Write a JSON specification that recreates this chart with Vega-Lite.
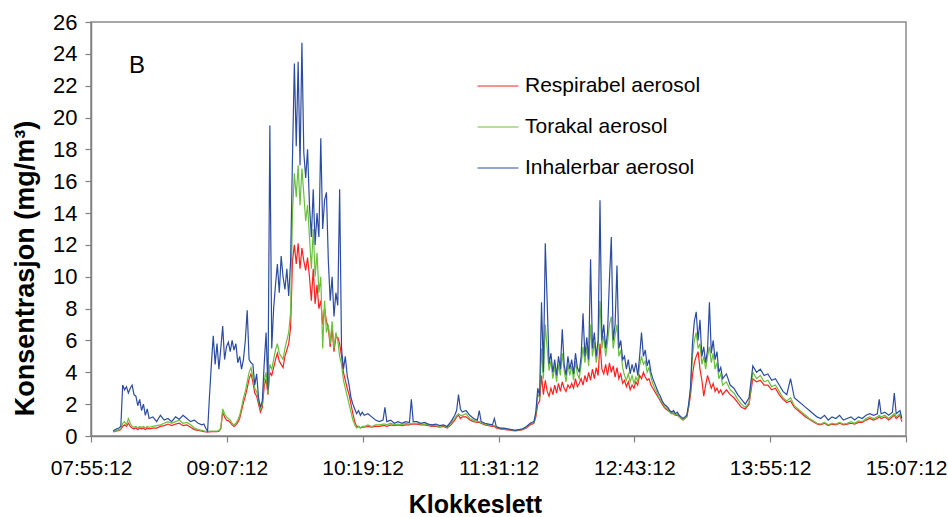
{
  "$schema": "https://vega.github.io/schema/vega-lite/v6.json",
  "width": 815,
  "height": 414,
  "autosize": {"type": "none"},
  "padding": {"left": 91, "top": 22, "right": 42, "bottom": 81},
  "background": "white",
  "config": {
    "font": "Liberation Sans",
    "view": {"stroke": "#8a8a8a", "strokeWidth": 1.5},
    "axis": {
      "labelFont": "Liberation Sans",
      "titleFont": "Liberation Sans",
      "labelColor": "#000000",
      "titleColor": "#000000",
      "domainColor": "#808080",
      "domainWidth": 1.5,
      "tickColor": "#808080",
      "tickWidth": 1.2,
      "labelOverlap": false,
      "grid": false
    },
    "axisY": {"labelOverlap": false, "labelFontSize": 22}
  },
  "layer": [
    {
      "data": {
        "format": {"parse": {"t": "date:'%H:%M'"}},
        "values": [
          {"t":"08:07","r":0.25,"g":0.3,"b":0.3},
          {"t":"08:08","r":0.28,"g":0.3,"b":0.4},
          {"t":"08:10","r":0.35,"g":0.4,"b":0.5},
          {"t":"08:11","r":0.4,"g":0.45,"b":0.6},
          {"t":"08:12","r":0.6,"g":0.8,"b":3.2},
          {"t":"08:13","r":0.7,"g":0.9,"b":2.9},
          {"t":"08:14","r":0.6,"g":0.7,"b":3.1},
          {"t":"08:15","r":0.8,"g":1.1,"b":2.7},
          {"t":"08:16","r":0.6,"g":0.8,"b":3.0},
          {"t":"08:17","r":0.5,"g":0.6,"b":3.2},
          {"t":"08:18","r":0.45,"g":0.55,"b":2.6},
          {"t":"08:19","r":0.5,"g":0.6,"b":2.5},
          {"t":"08:20","r":0.4,"g":0.5,"b":1.9},
          {"t":"08:21","r":0.5,"g":0.6,"b":2.3},
          {"t":"08:22","r":0.45,"g":0.55,"b":1.6},
          {"t":"08:23","r":0.5,"g":0.6,"b":2.0},
          {"t":"08:24","r":0.4,"g":0.5,"b":1.3},
          {"t":"08:25","r":0.5,"g":0.6,"b":1.7},
          {"t":"08:26","r":0.45,"g":0.55,"b":1.1},
          {"t":"08:28","r":0.5,"g":0.6,"b":1.2},
          {"t":"08:30","r":0.5,"g":0.65,"b":0.9},
          {"t":"08:32","r":0.6,"g":0.7,"b":1.3},
          {"t":"08:34","r":0.65,"g":0.8,"b":1.0},
          {"t":"08:36","r":0.75,"g":0.9,"b":1.1},
          {"t":"08:38","r":0.65,"g":0.8,"b":0.9},
          {"t":"08:40","r":0.75,"g":0.9,"b":1.2},
          {"t":"08:42","r":0.8,"g":1.0,"b":1.05},
          {"t":"08:44","r":0.65,"g":0.8,"b":1.3},
          {"t":"08:46","r":0.7,"g":0.85,"b":1.1},
          {"t":"08:48","r":0.55,"g":0.7,"b":0.9},
          {"t":"08:50","r":0.4,"g":0.5,"b":1.0},
          {"t":"08:52","r":0.35,"g":0.4,"b":0.8},
          {"t":"08:54","r":0.3,"g":0.35,"b":0.7},
          {"t":"08:55","r":0.28,"g":0.32,"b":0.75},
          {"t":"08:56","r":0.25,"g":0.3,"b":0.5},
          {"t":"08:57","r":0.25,"g":0.28,"b":0.3},
          {"t":"08:58","r":0.25,"g":0.3,"b":2.5},
          {"t":"08:59","r":0.27,"g":0.3,"b":4.5},
          {"t":"09:00","r":0.27,"g":0.3,"b":6.3},
          {"t":"09:01","r":0.27,"g":0.3,"b":4.5},
          {"t":"09:02","r":0.28,"g":0.3,"b":5.8},
          {"t":"09:03","r":0.3,"g":0.35,"b":4.2},
          {"t":"09:04","r":0.45,"g":0.5,"b":5.5},
          {"t":"09:05","r":1.5,"g":1.7,"b":6.9},
          {"t":"09:06","r":1.2,"g":1.4,"b":4.8},
          {"t":"09:07","r":1.0,"g":1.2,"b":5.6},
          {"t":"09:08","r":0.95,"g":1.1,"b":5.9},
          {"t":"09:09","r":0.85,"g":1.0,"b":5.3},
          {"t":"09:10","r":0.7,"g":0.8,"b":6.0},
          {"t":"09:11","r":0.6,"g":0.7,"b":5.4},
          {"t":"09:12","r":0.7,"g":0.8,"b":5.8},
          {"t":"09:13","r":0.85,"g":1.0,"b":4.6},
          {"t":"09:14","r":1.1,"g":1.3,"b":5.0},
          {"t":"09:15","r":1.6,"g":1.8,"b":4.2},
          {"t":"09:16","r":2.1,"g":2.4,"b":4.8},
          {"t":"09:17","r":2.5,"g":2.8,"b":6.0},
          {"t":"09:18","r":3.0,"g":3.4,"b":7.9},
          {"t":"09:19","r":3.6,"g":4.0,"b":4.8},
          {"t":"09:20","r":3.9,"g":4.3,"b":4.6},
          {"t":"09:21","r":3.4,"g":3.7,"b":4.5},
          {"t":"09:22","r":2.7,"g":3.0,"b":3.2},
          {"t":"09:23","r":2.5,"g":2.8,"b":3.9},
          {"t":"09:24","r":2.0,"g":2.2,"b":2.4},
          {"t":"09:25","r":1.5,"g":1.7,"b":1.8},
          {"t":"09:26","r":1.8,"g":2.0,"b":2.2},
          {"t":"09:27","r":3.1,"g":3.5,"b":4.5},
          {"t":"09:28","r":3.6,"g":4.0,"b":6.5},
          {"t":"09:29","r":2.6,"g":2.7,"b":2.9},
          {"t":"09:30","r":4.0,"g":4.5,"b":19.5},
          {"t":"09:31","r":3.8,"g":4.2,"b":5.5},
          {"t":"09:32","r":4.3,"g":4.8,"b":8.0},
          {"t":"09:33","r":4.8,"g":5.4,"b":9.5},
          {"t":"09:34","r":5.2,"g":5.8,"b":10.8},
          {"t":"09:35","r":4.7,"g":5.2,"b":9.0},
          {"t":"09:36","r":4.5,"g":5.0,"b":11.3},
          {"t":"09:37","r":4.3,"g":4.8,"b":10.0},
          {"t":"09:38","r":5.0,"g":5.5,"b":9.2},
          {"t":"09:39","r":5.4,"g":6.0,"b":10.5},
          {"t":"09:40","r":5.8,"g":6.5,"b":8.8},
          {"t":"09:41","r":6.8,"g":7.8,"b":11.0},
          {"t":"09:42","r":11.0,"g":14.0,"b":17.5},
          {"t":"09:43","r":12.0,"g":16.5,"b":23.4},
          {"t":"09:44","r":10.8,"g":15.0,"b":18.2},
          {"t":"09:45","r":12.1,"g":17.0,"b":23.5},
          {"t":"09:46","r":10.5,"g":14.5,"b":17.0},
          {"t":"09:47","r":11.8,"g":16.8,"b":24.7},
          {"t":"09:48","r":11.0,"g":15.2,"b":17.8},
          {"t":"09:49","r":10.4,"g":13.5,"b":16.2},
          {"t":"09:50","r":11.2,"g":14.5,"b":18.0},
          {"t":"09:51","r":10.0,"g":12.5,"b":14.5},
          {"t":"09:52","r":8.5,"g":10.5,"b":12.5},
          {"t":"09:53","r":10.5,"g":13.0,"b":15.5},
          {"t":"09:54","r":8.3,"g":10.0,"b":12.0},
          {"t":"09:55","r":9.5,"g":11.5,"b":14.0},
          {"t":"09:56","r":8.0,"g":9.0,"b":12.5},
          {"t":"09:57","r":8.5,"g":10.0,"b":18.7},
          {"t":"09:58","r":7.0,"g":5.5,"b":13.0},
          {"t":"09:59","r":8.0,"g":8.5,"b":14.8},
          {"t":"10:00","r":7.2,"g":6.5,"b":15.3},
          {"t":"10:01","r":6.8,"g":7.0,"b":11.0},
          {"t":"10:02","r":5.6,"g":5.8,"b":8.5},
          {"t":"10:03","r":6.8,"g":7.2,"b":10.0},
          {"t":"10:04","r":5.3,"g":5.5,"b":7.5},
          {"t":"10:05","r":6.2,"g":6.5,"b":9.0},
          {"t":"10:06","r":6.2,"g":6.0,"b":8.2},
          {"t":"10:07","r":5.8,"g":5.0,"b":15.5},
          {"t":"10:08","r":5.0,"g":4.5,"b":5.5},
          {"t":"10:09","r":4.0,"g":3.5,"b":4.2},
          {"t":"10:10","r":3.5,"g":3.0,"b":5.0},
          {"t":"10:11","r":3.0,"g":2.5,"b":3.8},
          {"t":"10:12","r":2.6,"g":2.0,"b":3.2},
          {"t":"10:13","r":2.0,"g":1.5,"b":2.4},
          {"t":"10:14","r":1.4,"g":1.0,"b":2.0},
          {"t":"10:15","r":0.9,"g":0.7,"b":1.7},
          {"t":"10:16","r":0.6,"g":0.5,"b":1.4},
          {"t":"10:17","r":0.6,"g":0.6,"b":1.6},
          {"t":"10:18","r":0.5,"g":0.5,"b":1.3},
          {"t":"10:19","r":0.55,"g":0.6,"b":1.5},
          {"t":"10:20","r":0.55,"g":0.6,"b":1.3},
          {"t":"10:22","r":0.6,"g":0.7,"b":1.4},
          {"t":"10:24","r":0.55,"g":0.6,"b":1.2},
          {"t":"10:26","r":0.6,"g":0.7,"b":1.0},
          {"t":"10:28","r":0.6,"g":0.7,"b":0.9},
          {"t":"10:30","r":0.65,"g":0.75,"b":1.0},
          {"t":"10:31","r":0.65,"g":0.75,"b":1.8},
          {"t":"10:32","r":0.6,"g":0.7,"b":0.9},
          {"t":"10:34","r":0.7,"g":0.8,"b":1.0},
          {"t":"10:36","r":0.65,"g":0.7,"b":0.8},
          {"t":"10:38","r":0.7,"g":0.75,"b":0.9},
          {"t":"10:40","r":0.65,"g":0.7,"b":0.8},
          {"t":"10:42","r":0.7,"g":0.8,"b":0.9},
          {"t":"10:44","r":0.7,"g":0.75,"b":0.85},
          {"t":"10:45","r":0.75,"g":0.8,"b":2.3},
          {"t":"10:46","r":0.75,"g":0.8,"b":0.9},
          {"t":"10:48","r":0.75,"g":0.8,"b":0.9},
          {"t":"10:50","r":0.7,"g":0.75,"b":0.8},
          {"t":"10:52","r":0.7,"g":0.75,"b":0.85},
          {"t":"10:54","r":0.65,"g":0.7,"b":0.75},
          {"t":"10:56","r":0.6,"g":0.65,"b":0.7},
          {"t":"10:58","r":0.6,"g":0.65,"b":0.75},
          {"t":"11:00","r":0.55,"g":0.6,"b":0.65},
          {"t":"11:02","r":0.6,"g":0.65,"b":0.7},
          {"t":"11:04","r":0.5,"g":0.55,"b":0.6},
          {"t":"11:06","r":0.7,"g":0.8,"b":0.9},
          {"t":"11:08","r":1.0,"g":1.1,"b":1.3},
          {"t":"11:09","r":1.2,"g":1.3,"b":1.6},
          {"t":"11:10","r":1.3,"g":1.4,"b":2.6},
          {"t":"11:11","r":1.1,"g":1.3,"b":1.7},
          {"t":"11:12","r":1.2,"g":1.3,"b":1.5},
          {"t":"11:14","r":1.2,"g":1.4,"b":1.6},
          {"t":"11:16","r":1.0,"g":1.1,"b":1.3},
          {"t":"11:18","r":0.9,"g":1.0,"b":1.1},
          {"t":"11:20","r":0.85,"g":0.9,"b":1.0},
          {"t":"11:21","r":0.85,"g":0.9,"b":1.6},
          {"t":"11:22","r":0.8,"g":0.85,"b":0.9},
          {"t":"11:24","r":0.7,"g":0.75,"b":0.8},
          {"t":"11:26","r":0.65,"g":0.7,"b":0.75},
          {"t":"11:28","r":0.6,"g":0.65,"b":0.7},
          {"t":"11:29","r":0.6,"g":0.65,"b":1.1},
          {"t":"11:30","r":0.5,"g":0.55,"b":0.6},
          {"t":"11:32","r":0.45,"g":0.5,"b":0.5},
          {"t":"11:34","r":0.42,"g":0.45,"b":0.5},
          {"t":"11:36","r":0.38,"g":0.42,"b":0.45},
          {"t":"11:38","r":0.35,"g":0.38,"b":0.4},
          {"t":"11:40","r":0.32,"g":0.35,"b":0.35},
          {"t":"11:42","r":0.35,"g":0.38,"b":0.4},
          {"t":"11:44","r":0.4,"g":0.42,"b":0.45},
          {"t":"11:46","r":0.5,"g":0.55,"b":0.6},
          {"t":"11:48","r":0.7,"g":0.75,"b":0.8},
          {"t":"11:50","r":0.8,"g":0.85,"b":0.9},
          {"t":"11:51","r":1.2,"g":1.4,"b":1.5},
          {"t":"11:52","r":2.0,"g":2.6,"b":3.0},
          {"t":"11:53","r":2.2,"g":2.4,"b":2.5},
          {"t":"11:54","r":3.8,"g":5.5,"b":8.4},
          {"t":"11:55","r":2.6,"g":3.6,"b":4.0},
          {"t":"11:56","r":3.5,"g":7.0,"b":12.1},
          {"t":"11:57","r":2.8,"g":5.5,"b":8.4},
          {"t":"11:58","r":2.5,"g":4.1,"b":4.5},
          {"t":"11:59","r":3.0,"g":4.7,"b":5.2},
          {"t":"12:00","r":2.6,"g":3.6,"b":4.0},
          {"t":"12:01","r":3.2,"g":4.4,"b":4.8},
          {"t":"12:02","r":2.7,"g":3.4,"b":3.8},
          {"t":"12:03","r":3.3,"g":4.5,"b":5.0},
          {"t":"12:04","r":2.8,"g":3.8,"b":4.2},
          {"t":"12:05","r":3.4,"g":5.2,"b":6.7},
          {"t":"12:06","r":3.0,"g":4.1,"b":4.5},
          {"t":"12:07","r":2.8,"g":3.4,"b":3.8},
          {"t":"12:08","r":3.2,"g":4.5,"b":5.0},
          {"t":"12:09","r":3.0,"g":3.8,"b":4.2},
          {"t":"12:10","r":3.3,"g":4.4,"b":4.8},
          {"t":"12:11","r":3.0,"g":3.5,"b":3.9},
          {"t":"12:12","r":3.6,"g":4.7,"b":5.2},
          {"t":"12:13","r":3.1,"g":3.9,"b":4.3},
          {"t":"12:14","r":3.3,"g":3.6,"b":4.0},
          {"t":"12:15","r":3.6,"g":4.5,"b":5.0},
          {"t":"12:16","r":3.2,"g":5.6,"b":7.7},
          {"t":"12:17","r":3.8,"g":4.6,"b":5.0},
          {"t":"12:18","r":3.4,"g":5.6,"b":6.2},
          {"t":"12:19","r":4.0,"g":4.4,"b":4.8},
          {"t":"12:20","r":3.5,"g":7.0,"b":11.1},
          {"t":"12:21","r":4.2,"g":5.0,"b":5.5},
          {"t":"12:22","r":3.6,"g":5.9,"b":6.5},
          {"t":"12:23","r":4.3,"g":4.6,"b":5.0},
          {"t":"12:24","r":3.8,"g":5.5,"b":6.0},
          {"t":"12:25","r":5.8,"g":8.5,"b":14.8},
          {"t":"12:26","r":4.2,"g":5.5,"b":6.0},
          {"t":"12:27","r":3.9,"g":6.3,"b":7.0},
          {"t":"12:28","r":4.5,"g":5.0,"b":5.5},
          {"t":"12:29","r":3.8,"g":5.9,"b":6.5},
          {"t":"12:30","r":4.6,"g":7.0,"b":9.8},
          {"t":"12:31","r":4.0,"g":7.5,"b":12.5},
          {"t":"12:32","r":4.4,"g":5.5,"b":6.0},
          {"t":"12:33","r":3.7,"g":6.3,"b":7.0},
          {"t":"12:34","r":4.3,"g":7.0,"b":10.7},
          {"t":"12:35","r":3.6,"g":5.0,"b":5.5},
          {"t":"12:36","r":3.9,"g":5.4,"b":6.0},
          {"t":"12:37","r":3.3,"g":4.3,"b":4.8},
          {"t":"12:38","r":3.5,"g":3.8,"b":5.0},
          {"t":"12:39","r":3.1,"g":3.5,"b":4.2},
          {"t":"12:40","r":3.4,"g":3.9,"b":4.8},
          {"t":"12:41","r":2.9,"g":3.4,"b":3.9},
          {"t":"12:42","r":3.2,"g":3.8,"b":4.5},
          {"t":"12:43","r":3.0,"g":3.3,"b":4.0},
          {"t":"12:44","r":3.4,"g":3.7,"b":4.6},
          {"t":"12:45","r":3.2,"g":3.4,"b":3.8},
          {"t":"12:46","r":3.8,"g":4.4,"b":5.0},
          {"t":"12:47","r":3.6,"g":5.0,"b":6.5},
          {"t":"12:48","r":4.0,"g":4.5,"b":5.0},
          {"t":"12:49","r":3.7,"g":4.7,"b":5.4},
          {"t":"12:50","r":3.5,"g":4.0,"b":4.4},
          {"t":"12:51","r":3.6,"g":4.3,"b":4.8},
          {"t":"12:52","r":3.2,"g":3.7,"b":4.0},
          {"t":"12:53","r":3.0,"g":3.3,"b":3.6},
          {"t":"12:54","r":2.8,"g":3.0,"b":3.3},
          {"t":"12:55","r":2.6,"g":2.8,"b":3.0},
          {"t":"12:56","r":2.4,"g":2.5,"b":2.7},
          {"t":"12:57","r":2.2,"g":2.3,"b":2.5},
          {"t":"12:58","r":2.0,"g":2.1,"b":2.2},
          {"t":"12:59","r":1.8,"g":1.9,"b":2.0},
          {"t":"13:00","r":1.7,"g":1.8,"b":1.9},
          {"t":"13:01","r":1.6,"g":1.7,"b":1.8},
          {"t":"13:02","r":1.5,"g":1.5,"b":1.6},
          {"t":"13:03","r":1.4,"g":1.4,"b":1.5},
          {"t":"13:04","r":1.4,"g":1.5,"b":1.6},
          {"t":"13:05","r":1.3,"g":1.3,"b":1.4},
          {"t":"13:06","r":1.3,"g":1.4,"b":1.5},
          {"t":"13:07","r":1.2,"g":1.2,"b":1.3},
          {"t":"13:08","r":1.1,"g":1.1,"b":1.2},
          {"t":"13:09","r":1.0,"g":1.0,"b":1.1},
          {"t":"13:10","r":1.1,"g":1.1,"b":1.2},
          {"t":"13:11","r":1.2,"g":1.2,"b":1.3},
          {"t":"13:12","r":1.8,"g":1.9,"b":2.0},
          {"t":"13:13","r":2.6,"g":2.9,"b":3.1},
          {"t":"13:14","r":3.8,"g":5.0,"b":5.8},
          {"t":"13:15","r":4.6,"g":6.0,"b":7.2},
          {"t":"13:16","r":5.0,"g":6.5,"b":7.8},
          {"t":"13:17","r":5.3,"g":5.5,"b":6.0},
          {"t":"13:18","r":4.2,"g":5.8,"b":7.3},
          {"t":"13:19","r":3.5,"g":4.5,"b":5.0},
          {"t":"13:20","r":2.5,"g":5.0,"b":5.6},
          {"t":"13:21","r":3.2,"g":4.2,"b":4.6},
          {"t":"13:22","r":3.8,"g":5.0,"b":5.4},
          {"t":"13:23","r":3.4,"g":5.6,"b":8.4},
          {"t":"13:24","r":3.0,"g":4.6,"b":5.2},
          {"t":"13:25","r":3.3,"g":5.2,"b":6.0},
          {"t":"13:26","r":2.8,"g":4.2,"b":4.8},
          {"t":"13:27","r":3.0,"g":4.6,"b":5.3},
          {"t":"13:28","r":2.7,"g":3.6,"b":4.0},
          {"t":"13:29","r":2.9,"g":3.9,"b":4.3},
          {"t":"13:30","r":2.6,"g":3.2,"b":3.6},
          {"t":"13:32","r":2.9,"g":3.4,"b":3.9},
          {"t":"13:34","r":2.6,"g":2.9,"b":3.2},
          {"t":"13:36","r":2.4,"g":2.7,"b":3.0},
          {"t":"13:38","r":2.1,"g":2.3,"b":2.6},
          {"t":"13:40","r":1.8,"g":2.0,"b":2.3},
          {"t":"13:42","r":1.7,"g":1.8,"b":2.0},
          {"t":"13:44","r":2.0,"g":2.1,"b":2.4},
          {"t":"13:45","r":2.8,"g":3.0,"b":3.4},
          {"t":"13:46","r":3.6,"g":4.0,"b":4.4},
          {"t":"13:48","r":3.4,"g":3.6,"b":4.0},
          {"t":"13:50","r":3.5,"g":3.8,"b":4.2},
          {"t":"13:52","r":3.2,"g":3.4,"b":3.8},
          {"t":"13:54","r":3.2,"g":3.5,"b":3.9},
          {"t":"13:56","r":2.9,"g":3.1,"b":3.5},
          {"t":"13:58","r":3.0,"g":3.2,"b":3.6},
          {"t":"14:00","r":2.6,"g":2.8,"b":3.2},
          {"t":"14:02","r":2.3,"g":2.4,"b":2.8},
          {"t":"14:04","r":2.1,"g":2.2,"b":2.6},
          {"t":"14:06","r":2.2,"g":2.4,"b":3.6},
          {"t":"14:08","r":1.8,"g":1.9,"b":2.4},
          {"t":"14:10","r":1.6,"g":1.7,"b":2.2},
          {"t":"14:12","r":1.4,"g":1.5,"b":2.0},
          {"t":"14:14","r":1.2,"g":1.3,"b":1.8},
          {"t":"14:16","r":1.05,"g":1.1,"b":1.6},
          {"t":"14:18","r":0.9,"g":0.95,"b":1.4},
          {"t":"14:20","r":0.75,"g":0.8,"b":1.2},
          {"t":"14:22","r":0.7,"g":0.75,"b":1.1},
          {"t":"14:24","r":0.8,"g":0.85,"b":1.3},
          {"t":"14:26","r":0.65,"g":0.7,"b":1.0},
          {"t":"14:28","r":0.75,"g":0.8,"b":1.2},
          {"t":"14:30","r":0.7,"g":0.75,"b":1.1},
          {"t":"14:32","r":0.8,"g":0.85,"b":1.3},
          {"t":"14:34","r":0.7,"g":0.75,"b":1.0},
          {"t":"14:36","r":0.75,"g":0.8,"b":1.1},
          {"t":"14:38","r":0.8,"g":0.9,"b":1.2},
          {"t":"14:40","r":0.75,"g":0.8,"b":1.0},
          {"t":"14:42","r":0.85,"g":0.95,"b":1.2},
          {"t":"14:44","r":0.85,"g":0.9,"b":1.1},
          {"t":"14:46","r":1.0,"g":1.1,"b":1.3},
          {"t":"14:48","r":1.1,"g":1.2,"b":1.4},
          {"t":"14:50","r":1.0,"g":1.1,"b":1.3},
          {"t":"14:52","r":1.1,"g":1.2,"b":1.4},
          {"t":"14:53","r":1.2,"g":1.3,"b":2.3},
          {"t":"14:54","r":1.1,"g":1.2,"b":1.4},
          {"t":"14:56","r":1.2,"g":1.3,"b":1.5},
          {"t":"14:58","r":1.0,"g":1.1,"b":1.3},
          {"t":"15:00","r":1.2,"g":1.3,"b":1.5},
          {"t":"15:01","r":1.3,"g":1.4,"b":2.7},
          {"t":"15:02","r":1.1,"g":1.2,"b":1.4},
          {"t":"15:04","r":1.3,"g":1.4,"b":1.6},
          {"t":"15:05","r":0.9,"g":1.0,"b":1.1}
        ]
      },
      "transform": [{"fold": ["r", "g", "b"], "as": ["serie", "v"]}],
      "mark": {"type": "line", "strokeWidth": 1.2, "interpolate": "linear"},
      "encoding": {
        "x": {
          "field": "t",
          "type": "temporal",
          "scale": {
            "domain": [
              {"year": 1900, "month": 1, "date": 1, "hours": 7, "minutes": 55, "seconds": 12},
              {"year": 1900, "month": 1, "date": 1, "hours": 15, "minutes": 7, "seconds": 12}
            ],
            "nice": false
          },
          "axis": {
            "values": [
              {"year": 1900, "month": 1, "date": 1, "hours": 7, "minutes": 55, "seconds": 12},
              {"year": 1900, "month": 1, "date": 1, "hours": 9, "minutes": 7, "seconds": 12},
              {"year": 1900, "month": 1, "date": 1, "hours": 10, "minutes": 19, "seconds": 12},
              {"year": 1900, "month": 1, "date": 1, "hours": 11, "minutes": 31, "seconds": 12},
              {"year": 1900, "month": 1, "date": 1, "hours": 12, "minutes": 43, "seconds": 12},
              {"year": 1900, "month": 1, "date": 1, "hours": 13, "minutes": 55, "seconds": 12},
              {"year": 1900, "month": 1, "date": 1, "hours": 15, "minutes": 7, "seconds": 12}
            ],
            "format": "%H:%M:%S",
            "labelFontSize": 21,
            "labelPadding": 15,
            "labelOverlap": false,
            "labelFlush": false,
            "tickSize": 6,
            "title": "Klokkeslett",
            "titleFontSize": 25,
            "titleFontWeight": "bold",
            "titleX": 384,
            "titleY": 76,
            "titleAlign": "center",
            "titleBaseline": "alphabetic"
          }
        },
        "y": {
          "field": "v",
          "type": "quantitative",
          "scale": {"domain": [0, 26], "nice": false},
          "axis": {
            "values": [0, 2, 4, 6, 8, 10, 12, 14, 16, 18, 20, 22, 24, 26],
            "labelOverlap": false,
            "labelFontSize": 22,
            "labelPadding": 8,
            "tickSize": 6,
            "title": "Konsentrasjon (mg/m³)",
            "titleFontSize": 27,
            "titleFontWeight": "bold",
            "titleAngle": 270,
            "titleX": -58,
            "titleY": 246,
            "titleAlign": "center",
            "titleBaseline": "alphabetic"
          }
        },
        "color": {
          "field": "serie",
          "type": "nominal",
          "scale": {"domain": ["r", "g", "b"], "range": ["#ff2020", "#6abf3c", "#2c4ca2"]},
          "legend": {
            "orient": "none",
            "legendX": 386,
            "legendY": 43,
            "title": null,
            "padding": 0,
            "symbolType": "stroke",
            "symbolSize": 1681,
            "symbolStrokeWidth": 1,
            "labelFont": "Liberation Sans",
            "labelFontSize": 21,
            "labelColor": "#000000",
            "labelLimit": 400,
            "labelOffset": 6,
            "rowPadding": 10,
            "labelExpr": "datum.value == 'r' ? 'Respirabel aerosol' : datum.value == 'g' ? 'Torakal aerosol' : 'Inhalerbar aerosol'"
          }
        }
      }
    },
    {
      "data": {"values": [{"panel": "B"}]},
      "mark": {"type": "text", "fontSize": 24, "font": "Liberation Sans", "align": "center", "baseline": "alphabetic", "color": "#000000"},
      "encoding": {
        "x": {"datum": {"year": 1900, "month": 1, "date": 1, "hours": 8, "minutes": 19, "seconds": 36}, "type": "temporal", "axis": {"labelOverlap": false}},
        "y": {"datum": 22.8, "type": "quantitative", "axis": {"labelOverlap": false, "values": [0, 2, 4, 6, 8, 10, 12, 14, 16, 18, 20, 22, 24, 26]}},
        "text": {"field": "panel"}
      }
    }
  ]
}
